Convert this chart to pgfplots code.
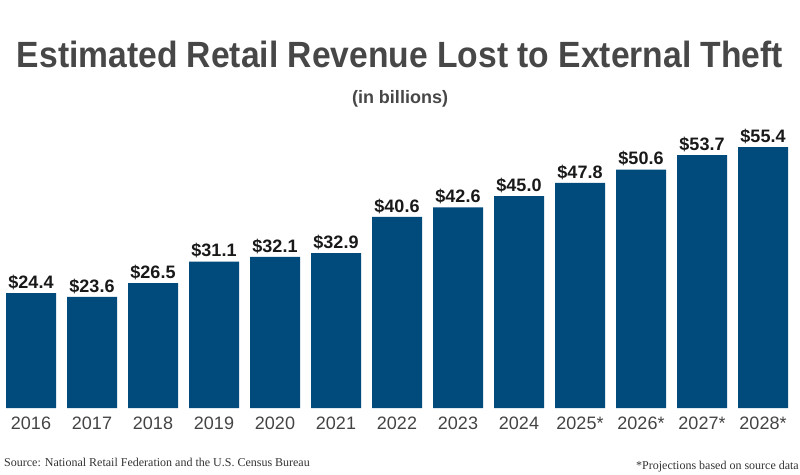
\documentclass[border=0pt]{standalone}
\usepackage{pgfplots}
\pgfplotsset{compat=1.18}
\usepackage{fontspec}
\setmainfont{Liberation Sans}
\newfontfamily\srcfont{Liberation Serif}
\definecolor{barblue}{HTML}{004A7C}
\definecolor{titlegray}{HTML}{474747}
\definecolor{tickgray}{HTML}{444444}

\begin{document}
\begin{tikzpicture}
\path[use as bounding box] (0,0) rectangle (800bp,475bp);
\begin{axis}[
    at={(0.5bp,67bp)}, anchor=south west,
    scale only axis,
    width=793bp, height=282.6bp,
    xmin=-0.5, xmax=12.5,
    ymin=0, ymax=60,
    axis line style={draw=none},
    major tick length=0pt,
    ytick=\empty,
    xtick={0,...,12},
    xticklabels={2016,2017,2018,2019,2020,2021,2022,2023,2024,2025*,2026*,2027*,2028*},
    xticklabel style={font=\fontsize{18bp}{20bp}\selectfont, text=tickgray, inner sep=0pt, anchor=north, yshift=-8.7bp},
    /pgf/number format/assume math mode=true,
    ybar, bar width=50bp,
    nodes near coords={\$\pgfmathprintnumber[fixed, fixed zerofill, precision=1]{\pgfplotspointmeta}},
    nodes near coords style={font=\bfseries\fontsize{18bp}{20bp}\selectfont, text=black!90, inner sep=0pt, anchor=base, yshift=4.7bp},
    clip=false,
]
\addplot[fill=barblue, draw=none] coordinates {
    (0,24.4) (1,23.6) (2,26.5) (3,31.1) (4,32.1) (5,32.9) (6,40.6)
    (7,42.6) (8,45.0) (9,47.8) (10,50.6) (11,53.7) (12,55.4)
};
\end{axis}
\node[anchor=base, inner sep=0pt, text=titlegray] at (400bp,407.3bp)
    {\resizebox{766bp}{\height}{\bfseries\fontsize{36.5bp}{40bp}\selectfont Estimated Retail Revenue Lost to External Theft}};
\node[anchor=base, inner sep=0pt, text=titlegray] at (400bp,371.7bp)
    {\bfseries\fontsize{18bp}{20bp}\selectfont (in billions)};
\node[anchor=base west, inner sep=0pt, text=black!80] at (4bp,8.5bp)
    {\srcfont\fontsize{12bp}{14bp}\selectfont Source: National Retail Federation and the U.S. Census Bureau};
\node[anchor=base east, inner sep=0pt, text=black!80] at (799bp,6bp)
    {\srcfont\fontsize{12bp}{14bp}\selectfont *Projections based on source data};
\end{tikzpicture}
\end{document}
